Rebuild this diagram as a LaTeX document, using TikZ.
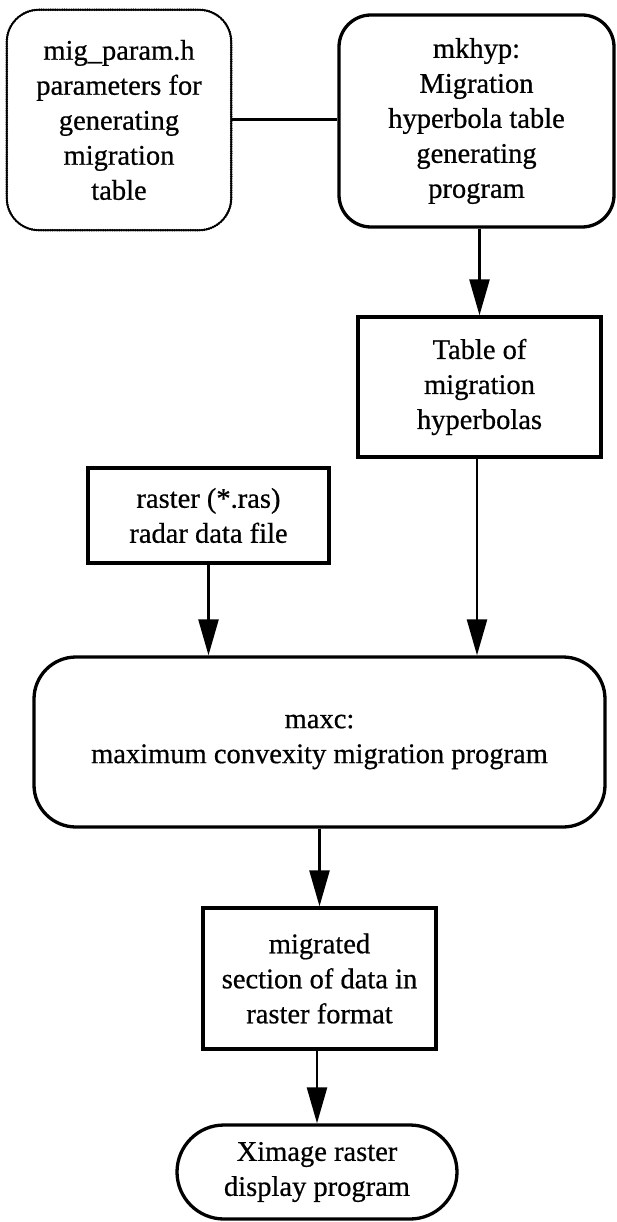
\documentclass[tikz,border=0pt]{standalone}
\usepackage{fontspec}
\setmainfont{Liberation Serif}[BoldFont={Liberation Serif},BoldFeatures={FakeBold=0.6}]
\usetikzlibrary{arrows.meta}

\begin{document}
\begin{tikzpicture}[x=1pt,y=-1pt,
  every node/.style={align=center,inner sep=0pt,
    font=\fontsize{28.5}{35}\selectfont\bfseries},
  box/.style={draw,line width=3.3pt},
  roundbox/.style={box,rounded corners=32pt},
  arr/.style={line width=2.5pt,-{Triangle[length=36pt,width=20pt]}},
  link/.style={line width=3pt},
  grainy/.style={line width=1.7pt},
  beads/.style={line width=2.6pt,line cap=round,dash pattern=on 0.1pt off 2.2pt}]
\useasboundingbox (0,0) rectangle (616,1222);

% parameter file, with a beaded outline
\node[minimum width=224pt,minimum height=220pt] (mig) at (119,120)
  {mig\_param.h\\parameters for\\generating\\migration\\table};
\draw[grainy,rounded corners=32pt] (mig.south west) rectangle (mig.north east);
\draw[beads,rounded corners=32pt] (mig.south west) rectangle (mig.north east);

% table generator
\node[roundbox,minimum width=275pt,minimum height=212pt] (mkhyp) at (476.5,121)
  {mkhyp:\\Migration\\hyperbola table\\generating\\program};

% generated table
\node[box,minimum width=243pt,minimum height=140pt] (table) at (479.5,387)
  {Table of\\migration\\hyperbolas};

% input data file
\node[box,minimum width=241pt,minimum height=95pt] (raster) at (208.5,515.5)
  {raster (*.ras)\\radar data file};

% migration program
\node[roundbox,rounded corners=42pt,minimum width=571pt,minimum height=170pt] (maxc) at (319.5,742)
  {maxc:\\maximum convexity migration program};

% output section
\node[box,minimum width=233pt,minimum height=141pt] (migrated) at (319.5,978.5)
  {migrated\\section of data in\\raster format};

% display program
\node[box,rounded corners=47pt,minimum width=280pt,minimum height=94pt] (ximage) at (317,1172)
  {Ximage raster\\display program};

% connectors
\draw[link] (mig.east) -- (mig.east -| mkhyp.west);
\draw[arr] (mkhyp.south -| table.north) -- (table.north);
\draw[arr] (raster.south) -- (raster.south |- maxc.north);
\draw[arr] (table.south -| 477,0) -- (maxc.north -| 477,0);
\draw[arr] (maxc.south -| migrated.north) -- (migrated.north);
\draw[arr] (migrated.south -| ximage.north) -- (ximage.north);
\end{tikzpicture}
\end{document}
